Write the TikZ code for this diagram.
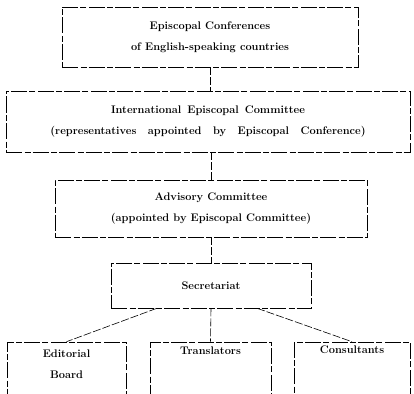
\documentclass[tikz,border=0pt]{standalone}
\usetikzlibrary{calc,positioning}
\newcommand{\wsp}{\hspace{1.05em}}
\tikzset{
  orgbox/.style={draw, line width=0.6pt, dash pattern=on 16pt off 2.5pt on 6pt off 2pt, inner sep=0pt, align=center, font=\fontsize{11}{13}\selectfont\bfseries},
  orgline/.style={line width=0.6pt, dash pattern=on 8pt off 2pt},
  orgtext/.style={inner sep=0pt, align=center, font=\fontsize{11}{13}\selectfont\bfseries}
}

\begin{document}
\begin{tikzpicture}[x=1pt,y=-1pt]
			%%%%% START %%%%%
			\useasboundingbox (0,0) rectangle (414,393);
			
			\node[orgbox, minimum width=296, minimum height=60] (conf) at (210,37) {Episcopal Conferences\\[8pt]of English-speaking countries};
			\node[orgbox, minimum width=404, minimum height=61] (iec) at (208,121.5) {International\hspace{0.55em}Episcopal\hspace{0.55em}Committee\\[8pt](representatives\wsp appointed\wsp by\wsp Episcopal\wsp Conference)};
			\node[orgbox, minimum width=312, minimum height=57] (adv) at (211,208.5) {Advisory Committee\\[8pt](appointed by Episcopal Committee)};
			\node[orgbox, minimum width=200, minimum height=45] (sec) at (211,285.5) {Secretariat};
			
			% bottom row runs off the page
			\node[orgbox, minimum width=119, minimum height=60] (edit) at (66.5,372) {};
			\node[orgbox, minimum width=121, minimum height=60] (trans) at (210.5,372) {};
			\node[orgbox, minimum width=116, minimum height=60] (cons) at (352,372) {};
			\node[orgtext, below=8pt of edit.north] (editlbl) {Editorial\\[8pt]Board};
			\node[orgtext, below=5pt of trans.north] (translbl) {Translators};
			\node[orgtext, below=4pt of cons.north] (conslbl) {Consultants};
			
			\draw[orgline] (conf.south) -- (conf.south |- iec.north);
			\draw[orgline] (iec.south -| adv.north) -- (adv.north);
			\draw[orgline] (adv.south) -- (sec.north);
			
			\draw[orgline] ($(sec.south west)!0.23!(sec.south east)$) -- (edit.north);
			\draw[orgline] (sec.south) -- (trans.north);
			\draw[orgline] ($(sec.south west)!0.73!(sec.south east)$) -- (cons.north);
			
			%%%%% END %%%%%
		\end{tikzpicture}
\end{document}
